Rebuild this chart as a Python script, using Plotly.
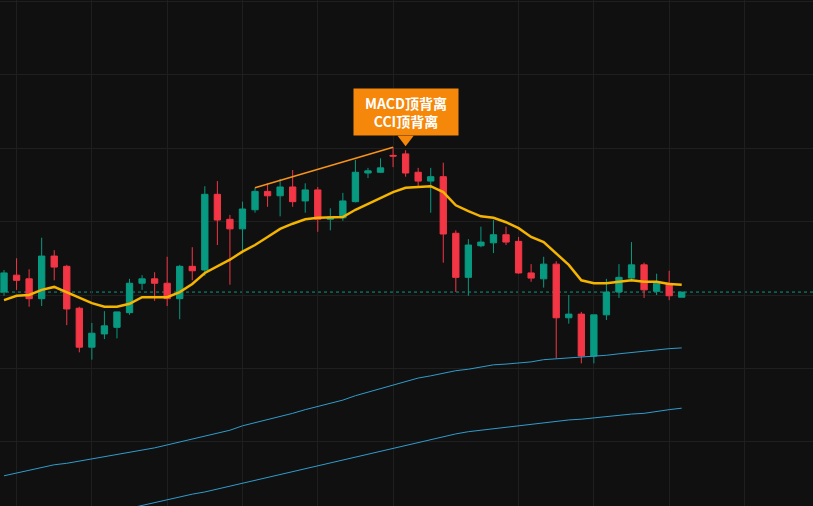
import plotly.graph_objects as go

# ---- data (price units) ----
idx = list(range(55))
opens = [50.04, 50.27, 50.22, 49.95, 50.53, 50.39, 49.82, 49.29, 49.47, 49.56,
         49.76, 50.16, 50.22, 50.16, 49.95, 50.39, 50.34, 51.37, 51.03, 50.90,
         51.16, 51.41, 51.35, 51.47, 51.28, 51.43, 51.03, 51.05, 51.27, 51.66,
         51.67, 51.90, 51.92, 51.67, 51.55, 51.61, 50.84, 50.24, 50.67, 50.71,
         50.82, 50.73, 50.30, 50.22, 50.42, 49.69, 49.74, 49.17, 49.73, 50.04,
         50.23, 50.41, 50.05, 50.16, 49.97]
highs = [50.34, 50.50, 50.35, 50.78, 50.61, 50.41, 49.84, 49.62, 49.78, 49.77,
         50.22, 50.27, 50.31, 50.52, 50.41, 50.65, 51.48, 51.55, 51.09, 51.27,
         51.46, 51.52, 51.58, 51.70, 51.52, 51.47, 51.18, 51.39, 51.84, 51.73,
         51.86, 52.01, 51.97, 51.73, 51.73, 51.80, 50.88, 50.76, 50.93, 51.02,
         50.93, 50.79, 50.42, 50.52, 50.46, 50.00, 49.77, 49.73, 50.22, 50.42,
         50.72, 50.44, 50.29, 50.33, 50.04]
lows = [49.99, 50.07, 49.84, 49.85, 50.20, 49.59, 49.22, 49.12, 49.40, 49.41,
        49.73, 50.07, 49.92, 49.85, 49.67, 50.20, 50.26, 50.68, 50.14, 50.57,
        51.12, 51.20, 51.07, 51.20, 51.12, 50.86, 50.88, 51.01, 51.26, 51.59,
        51.66, 51.74, 51.61, 51.48, 51.12, 50.44, 50.04, 49.99, 50.65, 50.57,
        50.68, 50.29, 50.18, 50.10, 49.14, 49.61, 49.07, 49.07, 49.66, 49.96,
        50.20, 49.96, 50.00, 49.93, 49.97]
closes = [50.30, 50.20, 49.95, 50.53, 50.38, 49.81, 49.29, 49.48, 49.58, 49.77,
          50.16, 50.22, 50.16, 49.95, 50.39, 50.33, 51.37, 51.02, 50.90, 51.17,
          51.41, 51.35, 51.47, 51.27, 51.43, 51.03, 51.06, 51.28, 51.67, 51.69,
          51.73, 51.89, 51.66, 51.55, 51.61, 50.83, 50.24, 50.68, 50.72, 50.82,
          50.72, 50.30, 50.23, 50.42, 49.69, 49.74, 49.17, 49.73, 50.04, 50.24,
          50.41, 50.07, 50.16, 49.99, 50.04]
ma_short = [49.93, 49.99, 50.00, 50.07, 50.11, 50.04, 49.96, 49.89, 49.84, 49.84,
            49.88, 49.97, 49.97, 49.97, 50.04, 50.15, 50.30, 50.39, 50.48, 50.59,
            50.68, 50.79, 50.90, 50.97, 51.03, 51.05, 51.05, 51.06, 51.16, 51.24,
            51.33, 51.40, 51.46, 51.47, 51.48, 51.40, 51.22, 51.14, 51.07, 51.05,
            50.99, 50.91, 50.79, 50.72, 50.57, 50.41, 50.20, 50.16, 50.16, 50.18,
            50.20, 50.18, 50.18, 50.15, 50.14]
ma_mid = [47.54, 47.58, 47.61, 47.65, 47.69, 47.71, 47.74, 47.77, 47.80, 47.82,
          47.85, 47.88, 47.92, 47.96, 48.00, 48.04, 48.08, 48.12, 48.16, 48.22,
          48.26, 48.30, 48.35, 48.39, 48.44, 48.48, 48.53, 48.57, 48.63, 48.68,
          48.73, 48.78, 48.83, 48.87, 48.90, 48.94, 48.97, 48.99, 49.02, 49.05,
          49.06, 49.07, 49.09, 49.12, 49.13, 49.14, 49.16, 49.17, 49.18, 49.20,
          49.22, 49.24, 49.25, 49.27, 49.28]
ma_long = [46.73, 46.78, 46.80, 46.84, 46.87, 46.91, 46.95, 46.99, 47.03, 47.06,
           47.10, 47.14, 47.17, 47.21, 47.25, 47.29, 47.32, 47.36, 47.40, 47.43,
           47.47, 47.51, 47.55, 47.59, 47.63, 47.67, 47.71, 47.76, 47.80, 47.84,
           47.88, 47.92, 47.96, 48.00, 48.04, 48.08, 48.11, 48.14, 48.16, 48.19,
           48.20, 48.23, 48.24, 48.26, 48.29, 48.30, 48.31, 48.33, 48.35, 48.37,
           48.38, 48.39, 48.42, 48.44, 48.46]
divergence_idx = [20, 31]          # candles joined by the divergence line
signal_idx = 32                    # candle the label points at
signal_lines = ["MACD顶背离", "CCI顶背离"]
time_grid_idx = [1, 7, 13, 19, 25, 31, 41, 47, 53, 59]

GREEN = "#089981"
RED = "#f23645"
BG = "#101010"
GRID = "#1f1f1f"
ORANGE = "#f5870a"

fig = go.Figure()
fig.add_trace(go.Scatter(x=idx, y=ma_mid, mode="lines",
                         line=dict(color="#2f9ccc", width=1), hoverinfo="skip"))
fig.add_trace(go.Scatter(x=idx, y=ma_long, mode="lines",
                         line=dict(color="#2f9ccc", width=1), hoverinfo="skip"))
fig.add_trace(go.Candlestick(
    x=idx, open=opens, high=highs, low=lows, close=closes,
    increasing=dict(line=dict(color=GREEN, width=1), fillcolor=GREEN),
    decreasing=dict(line=dict(color=RED, width=1), fillcolor=RED),
    whiskerwidth=0, hoverinfo="skip"))
fig.add_trace(go.Scatter(x=idx, y=ma_short, mode="lines",
                         line=dict(color="#f5b400", width=2.5), hoverinfo="skip"))
fig.add_trace(go.Scatter(x=divergence_idx,
                         y=[highs[i] for i in divergence_idx], mode="lines",
                         line=dict(color="#f7931a", width=1.5), hoverinfo="skip"))

# last price dotted line
fig.add_shape(type="line", xref="paper", x0=0, x1=1, y0=closes[-1], y1=closes[-1],
              line=dict(color=GREEN, width=1, dash="dot"), layer="below")

# callout pointer (small lift above the signal candle's high)
fig.add_trace(go.Scatter(x=[signal_idx], y=[highs[signal_idx] + 0.15], mode="markers",
                         marker=dict(symbol="triangle-down", size=14, color=ORANGE,
                                     line=dict(width=0)),
                         hoverinfo="skip"))
fig.add_annotation(x=signal_idx, y=highs[signal_idx],
                   text="<br>".join("<b>%s</b>" % s for s in signal_lines),
                   showarrow=False, yanchor="bottom", yshift=14,
                   bgcolor=ORANGE, borderpad=4, width=96, align="center",
                   font=dict(family="Noto Sans CJK SC", size=14, color="white"))

fig.update_layout(
    width=813, height=506, margin=dict(l=0, r=0, t=0, b=0),
    paper_bgcolor=BG, plot_bgcolor=BG, showlegend=False, boxgap=0.28,
    xaxis=dict(range=[-0.32, 64.46], tickvals=time_grid_idx, showticklabels=False,
               showgrid=True, gridcolor=GRID, gridwidth=1, zeroline=False,
               rangeslider=dict(visible=False), fixedrange=True),
    yaxis=dict(range=[47.129, 54.014], dtick=1, showticklabels=False,
               showgrid=True, gridcolor=GRID, gridwidth=1, zeroline=False,
               fixedrange=True),
    hovermode=False,
)
fig.write_html("out.html", config={"displayModeBar": False},
               post_script="document.body.style.margin='0';"
                           "document.body.style.background='#101010';")
